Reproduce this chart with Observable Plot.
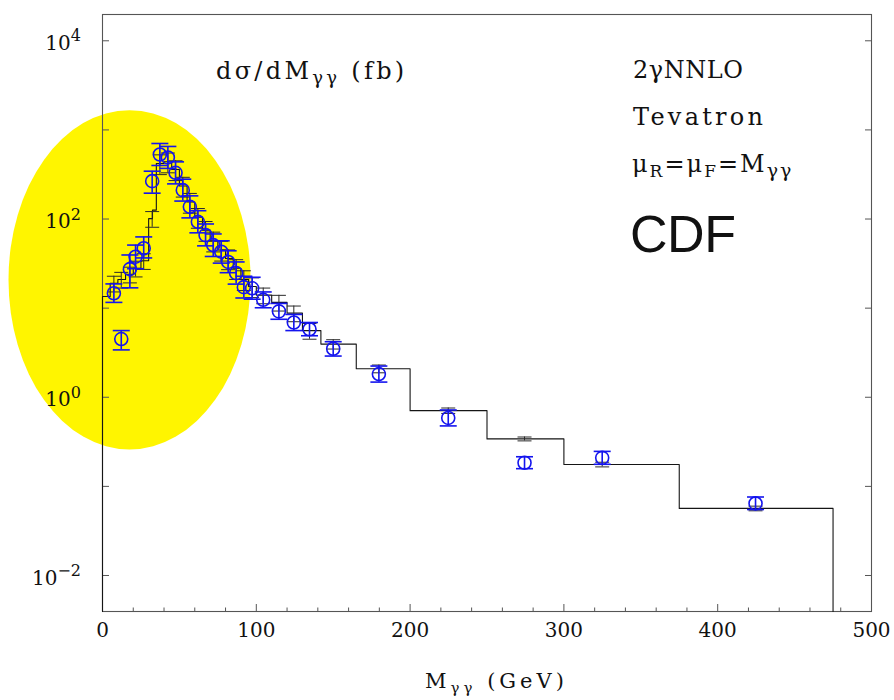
<!DOCTYPE html>
<html>
<head>
<meta charset="utf-8">
<script src="https://cdn.jsdelivr.net/npm/d3@7"></script>
<script src="https://cdn.jsdelivr.net/npm/@observablehq/plot@0.6"></script>
<style>
  body { margin: 0; background: #fff; }
  #chart svg { display: block; }
</style>
</head>
<body>
<div id="chart"></div>
<script>
// ---------------- data ----------------
// CDF measurement: bin centre (GeV), value (fb/GeV), error bar low / high
const cdfMass  = [7.4, 12.2, 17.8, 21.5, 26.8, 32.3, 37.3, 42.5, 47.5, 52.2, 56.8, 62.0, 67.0, 72.0, 77.2, 81.7, 86.9, 91.9, 97.3, 104.5, 114.7, 124.4, 134.6, 150, 179.7, 224.8, 274.4, 324.9, 424.6];
const cdfValue = [14.7, 4.5, 27.4, 37.8, 47, 266, 530, 491, 330, 211, 137, 93, 66, 51, 43, 33, 24.7, 17.2, 16.7, 12.4, 9.2, 6.9, 5.8, 3.5, 1.82, 0.586, 0.184, 0.209, 0.0644];
const cdfLow   = [11.6, 3.4, 16.9, 27.7, 36.6, 195, 399, 370, 248, 159, 103, 70, 50, 38, 32, 25, 18.6, 13, 12.6, 10.1, 7.5, 5.6, 4.9, 2.9, 1.48, 0.477, 0.158, 0.177, 0.055];
const cdfHigh  = [18.7, 5.6, 39.5, 51, 63, 344, 704, 652, 438, 280, 182, 124, 88, 68, 57, 44, 33, 22.8, 22.2, 15.2, 11.3, 8.5, 6.9, 4.2, 2.24, 0.72, 0.215, 0.247, 0.076];

// 2γNNLO histogram: lower bin edges, values, last upper edge
const histLow   = [0, 5, 10, 15, 20, 25, 30, 32.5, 35, 40, 45, 50, 55, 60, 65, 70, 75, 80, 85, 90, 95, 100, 110, 120, 130, 142, 165, 200, 250, 300, 375];
const histValue = [13.5, 19, 21, 24, 28, 34, 101, 126, 420, 440, 360, 235, 155, 105, 75, 57, 45, 36, 28, 21, 17.5, 14, 11.6, 8.8, 5.6, 3.95, 2.09, 0.708, 0.341, 0.176, 0.0566];
const histEnd = 475;
// relative size of the theory error bars, at the CDF bin centres
const theoryRelErr = [0.2, 0.2, 0.2, 0.2, 0.2, 0.2, 0.25, 0.25, 0.25, 0.25, 0.25, 0.25, 0.25, 0.25, 0.25, 0.25, 0.25, 0.25, 0.25, 0.2, 0.2, 0.2, 0.2, 0.12, 0.1, 0.07, 0.05, 0.06, 0.06];

// axis ticks
const xMajorTicks = [0, 100, 200, 300, 400, 500];
const xMinorTicks = [20, 40, 60, 80, 120, 140, 160, 180, 220, 240, 260, 280, 320, 340, 360, 380, 420, 440, 460, 480];
const yTickExponents = [-2, -1, 0, 1, 2, 3, 4];
const yLabelExponents = [4, 2, 0, -2];

// highlighted region (yellow ellipse): centre mass, centre value, radius in GeV, radius in decades
const ellipseMass = 17.9, ellipseValue = 20.5, ellipseRadiusGeV = 78.7, ellipseRadiusDecades = 1.904;

// ---------------- layout ----------------
const W = 894, H = 700, mL = 102, mR = 23, mT = 14, mB = 89;
const xDomain = [0, 500];
const yDomain = [10 ** -2.404, 10 ** 4.295];
const pxPerGeV = (W - mL - mR) / (xDomain[1] - xDomain[0]);
const pxPerDecade = (H - mT - mB) / Math.log10(yDomain[1] / yDomain[0]);
const gev = px => px / pxPerGeV;
const fac = px => 10 ** (px / pxPerDecade);

const blue = "#1414ee";
const dark = "#2a2a2a";
const serif = "DejaVu Serif";

const capSymbol = { draw(ctx, size) { const w = Math.sqrt(size / Math.PI); ctx.moveTo(-w, 0); ctx.lineTo(w, 0); } };

const cdf = cdfMass.map((m, i) => ({ m, v: cdfValue[i], lo: cdfLow[i], hi: cdfHigh[i] }));
const bins = histLow.map((lo, i) => ({ lo, hi: i + 1 < histLow.length ? histLow[i + 1] : histEnd, v: histValue[i] }));
const histPts = [
  { x: histLow[0], y: yDomain[0] },
  ...bins.map(b => ({ x: b.lo, y: b.v })),
  { x: histEnd, y: bins[bins.length - 1].v },
  { x: histEnd, y: yDomain[0] }
];
const histAt = m => bins.find(b => m >= b.lo && m < b.hi).v;
const theory = cdfMass.map((m, i) => {
  const v = histAt(m);
  return { m, v, lo: v * (1 - theoryRelErr[i]), hi: v * (1 + theoryRelErr[i]) };
});
const yTicks = yTickExponents.map(e => 10 ** e);

const plot = Plot.plot({
  width: W, height: H,
  marginLeft: mL, marginRight: mR, marginTop: mT, marginBottom: mB,
  style: { fontFamily: serif, fontSize: "20px", color: "#111", background: "#fff", overflow: "visible" },
  x: { domain: xDomain, ticks: 5, tickSize: 0, tickPadding: 11, label: null, tickFormat: d => String(d) },
  y: { type: "log", domain: yDomain, axis: null },
  marks: [
    Plot.frame({ stroke: "#555", strokeWidth: 1.1 }),
    // ticks (inward)
    Plot.ruleX(xMajorTicks, { x: d => d, y1: () => yDomain[0], y2: () => yDomain[0] * fac(7), stroke: "#555" }),
    Plot.ruleX(xMinorTicks, { x: d => d, y1: () => yDomain[0], y2: () => yDomain[0] * fac(3.5), stroke: "#555" }),
    Plot.ruleY(yTicks, { y: d => d, x1: () => xDomain[0], x2: () => xDomain[0] + gev(7), stroke: "#555" }),
    Plot.ruleY(yTicks, { y: d => d, x1: () => xDomain[1] - gev(6), x2: () => xDomain[1], stroke: "#555" }),
    // NNLO histogram
    Plot.line(histPts, { x: "x", y: "y", curve: "step-after", stroke: "#151515", strokeWidth: 1.1 }),
    // theory error bars
    Plot.ruleX(theory, { x: "m", y1: "lo", y2: "hi", stroke: dark, strokeWidth: 1 }),
    Plot.dot(theory, { x: "m", y: "lo", symbol: capSymbol, r: 7, stroke: dark, strokeWidth: 1, fill: "none" }),
    Plot.dot(theory, { x: "m", y: "hi", symbol: capSymbol, r: 7, stroke: dark, strokeWidth: 1, fill: "none" }),
    // CDF data
    Plot.ruleX(cdf, { x: "m", y1: "lo", y2: "hi", stroke: blue, strokeWidth: 1.6 }),
    Plot.dot(cdf, { x: "m", y: "lo", symbol: capSymbol, r: 8.5, stroke: blue, strokeWidth: 1.6, fill: "none" }),
    Plot.dot(cdf, { x: "m", y: "hi", symbol: capSymbol, r: 8.5, stroke: blue, strokeWidth: 1.6, fill: "none" }),
    Plot.dot(cdf, { x: "m", y: "v", r: 6.5, stroke: blue, strokeWidth: 1.6, fill: "none" })
  ]
});

document.getElementById("chart").appendChild(plot);

// ---------------- decorations through the plot's scales ----------------
const svg = d3.select(plot);
const sx = plot.scale("x"), sy = plot.scale("y");

// yellow ellipse behind everything
const ecx = sx.apply(ellipseMass), ecy = sy.apply(ellipseValue);
const erx = sx.apply(ellipseMass + ellipseRadiusGeV) - ecx;
const ery = ecy - sy.apply(ellipseValue * 10 ** ellipseRadiusDecades);
const firstMark = plot.querySelector(":scope > :not(style)");
const ell = document.createElementNS("http://www.w3.org/2000/svg", "ellipse");
ell.setAttribute("cx", ecx); ell.setAttribute("cy", ecy);
ell.setAttribute("rx", erx); ell.setAttribute("ry", ery);
ell.setAttribute("fill", "#fff500");
plot.insertBefore(ell, firstMark);

// y tick labels 10^n
const yLab = svg.append("g").attr("font-family", serif).attr("fill", "#111");
yLabelExponents.forEach(e => {
  const t = yLab.append("text")
    .attr("x", sx.apply(xDomain[0]) - 21)
    .attr("y", sy.apply(10 ** e) + 9.7)
    .attr("text-anchor", "end");
  t.append("tspan").attr("font-size", 20).text("10");
  t.append("tspan").attr("font-size", 16).attr("dy", -8.5).text(e < 0 ? "\u2212" + (-e) : String(e));
});

// free text: runs of [text, size, baseline shift]
function put(x, y, runs, opts = {}) {
  const t = svg.append("text")
    .attr("x", x).attr("y", y)
    .attr("font-family", opts.family || serif)
    .attr("fill", "#111")
    .attr("text-anchor", "start")
    .attr("letter-spacing", opts.ls || 0);
  let shift = 0;
  runs.forEach(([s, size, sh = 0]) => {
    t.append("tspan").attr("font-size", size).attr("dy", sh - shift).text(s);
    shift = sh;
  });
  if (opts.len) t.attr("textLength", opts.len).attr("lengthAdjust", "spacing");
}
put(216, 79, [["d\u03c3/dM", 24], ["\u03b3\u03b3", 18, 5], ["\u00a0(fb)", 24, 0]], { ls: 3.3 });
put(633, 78, [["2\u03b3NNLO", 24]], { len: 110 });
put(633, 125, [["Tevatron", 24]], { len: 130 });
put(632, 172, [["\u03bc", 24], ["R", 17, 5], ["=\u03bc", 24, 0], ["F", 17, 5], ["=M", 24, 0], ["\u03b3\u03b3", 19, 5]], { ls: 2 });
put(630, 252, [["CDF", 52]], { family: "Liberation Sans", len: 106 });
put(425, 688, [["M", 21], ["\u03b3\u03b3", 15, 5], ["\u00a0(GeV)", 21, 0]], { ls: 4 });
</script>
</body>
</html>
